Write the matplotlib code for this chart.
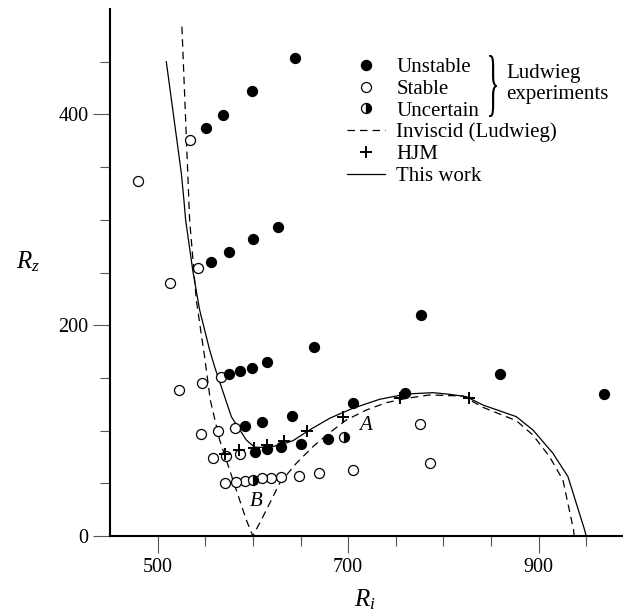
import matplotlib
matplotlib.use("Agg")
import matplotlib.pyplot as plt
from matplotlib.lines import Line2D
from matplotlib.textpath import TextPath
from matplotlib.patches import PathPatch
from matplotlib.font_manager import FontProperties
from matplotlib.transforms import Affine2D, IdentityTransform

plt.rcParams["font.family"] = "Liberation Serif"
plt.rcParams["mathtext.fontset"] = "custom"
plt.rcParams["mathtext.rm"] = "Liberation Serif"
plt.rcParams["mathtext.it"] = "Liberation Serif:italic"

# Ludwieg experiments
unstable_ri = [643.8, 599.4, 568.6, 551.1, 626.3, 600.1, 574.9, 555.6, 664.1, 614.8,
               599.4, 586.1, 574.9, 776.0, 859.1, 968.2, 759.3, 705.0, 641.0, 609.5,
               592.1, 678.8, 650.9, 629.9, 615.2, 601.8]
unstable_rz = [453.8, 421.9, 399.4, 387.1, 293.5, 281.5, 269.7, 260.2, 179.6, 164.8,
               159.7, 156.5, 153.4, 209.7, 153.7, 135.0, 135.4, 125.9, 114.1, 107.9,
               104.6, 91.7, 87.0, 84.2, 82.5, 79.4]

stable_ri = [534.3, 479.3, 542.3, 513.3, 566.1, 546.9, 522.0, 581.6, 563.3, 545.9,
             775.8, 586.1, 572.1, 558.1, 785.6, 705.0, 669.3, 648.0, 629.9, 619.4,
             609.5, 591.3, 581.9, 571.1]
stable_rz = [375.7, 336.5, 254.0, 240.3, 150.9, 145.4, 138.2, 102.2, 99.6, 96.5,
             106.3, 77.8, 75.9, 73.7, 69.5, 62.6, 59.5, 57.2, 56.3, 55.3,
             54.7, 52.5, 51.5, 50.6]

uncertain_ri = [695.6, 600.1]
uncertain_rz = [93.6, 53.1]

# HJM
hjm_ri = [571.1, 585.4, 600.8, 614.8, 632.6, 657.2, 694.5, 754.1, 826.8]
hjm_rz = [77.8, 81.6, 83.8, 86.3, 90.6, 99.9, 113.2, 130.6, 131.2]

# inviscid boundary (Ludwieg)
inviscid_ri = [525.5, 533.6, 540.6, 549.3, 555.3, 565.1, 579.1, 593.1, 600.0,
               610.6, 628.1, 645.6, 663.0, 680.6, 698.1, 719.1, 740.1, 761.1,
               785.6, 820.5, 841.5, 876.6, 894.0, 911.5, 925.5, 936.7, 937.3]
inviscid_rz = [483.2, 299.8, 223.9, 170.1, 129.0, 91.1, 53.1, 15.2, 0.0,
               18.3, 50.0, 69.0, 84.7, 98.0, 110.1, 119.5, 126.5, 130.6,
               133.8, 132.8, 122.1, 109.4, 95.8, 75.2, 53.1, 5.7, 0.0]

# present neutral curve
work_ri = [509.1, 524.9, 527.6, 529.4, 537.1, 544.1, 554.6, 559.8, 577.4, 593.1,
           601.8, 615.0, 628.1, 642.0, 659.6, 680.6, 705.0, 733.1, 761.1, 789.0,
           806.6, 824.1, 841.5, 876.6, 894.0, 915.0, 930.8, 948.3, 949.9]
work_rz = [450.0, 344.1, 318.8, 299.8, 250.8, 214.4, 176.5, 160.6, 113.2, 91.1,
           84.2, 84.0, 86.3, 90.4, 100.6, 111.7, 121.2, 129.7, 134.7, 136.0,
           134.4, 132.2, 124.3, 113.2, 100.6, 78.5, 56.3, 5.7, 0.0]

fig = plt.figure(figsize=(6.23, 6.16), dpi=100)
ax = fig.add_axes([110 / 623, 80 / 616, 514.35 / 623, 527 / 616])

ms = 7.2
ax.plot(inviscid_ri, inviscid_rz, color="black", lw=0.9, dashes=(6, 4), zorder=2)
ax.plot(work_ri, work_rz, color="black", lw=0.9, zorder=2)
ax.plot(stable_ri, stable_rz, "o", ms=ms, mfc="white", mec="black", mew=0.9, zorder=3)
ax.plot(unstable_ri, unstable_rz, "o", ms=ms, mfc="black", mec="black", mew=0.9, zorder=3)
ax.plot(uncertain_ri, uncertain_rz, "o", ms=ms, fillstyle="right", mfc="black",
        mfcalt="white", mec="black", mew=0.9, zorder=3)
ax.plot(hjm_ri, hjm_rz, "+", ms=9, color="black", mew=1.4, zorder=4)

ax.text(719, 104.4, "$A$", fontsize=15, ha="center", va="center")
ax.text(603, 32.5, "$B$", fontsize=15, ha="center", va="center")

ax.set_xlim(450, 990)
ax.set_ylim(0, 500)
ax.set_xticks([500, 700, 900])
ax.set_xticks([550, 600, 650, 750, 800, 850, 950], minor=True)
ax.set_yticks([0, 200, 400])
ax.set_yticks([50, 100, 150, 250, 300, 350, 450], minor=True)
ax.tick_params(which="major", length=12.5, width=0.8, color="#555555",
               labelsize=14.5, pad=3)
ax.tick_params(which="minor", length=7, width=0.8, color="#555555")
for side in ("top", "right"):
    ax.spines[side].set_visible(False)
for side in ("left", "bottom"):
    ax.spines[side].set_linewidth(1.5)

ax.text(-0.16, 0.52, "$R_z$", transform=ax.transAxes, fontsize=18,
        ha="center", va="center")
ax.text(0.496, -0.121, "$R_i$", transform=ax.transAxes, fontsize=18,
        ha="center", va="center")

handles = [
    Line2D([], [], ls="none", marker="o", ms=ms, mfc="black", mec="black"),
    Line2D([], [], ls="none", marker="o", ms=ms, mfc="white", mec="black", mew=0.9),
    Line2D([], [], ls="none", marker="o", ms=ms, fillstyle="right", mfc="black",
           mfcalt="white", mec="black", mew=0.9),
    Line2D([], [], color="black", lw=0.9, dashes=(6, 4)),
    Line2D([], [], ls="none", marker="+", ms=9, color="black", mew=1.4),
    Line2D([], [], color="black", lw=0.9),
]
labels = ["Unstable", "Stable", "Uncertain", "Inviscid (Ludwieg)", "HJM", "This work"]
ax.legend(handles, labels, loc="upper left", bbox_to_anchor=(0.4602, 0.9075),
          frameon=False, borderpad=0, borderaxespad=0, handlelength=1.84,
          handletextpad=0.55, labelspacing=0.1, fontsize=15)

# brace grouping the three experiment entries
tp = TextPath((0, 0), "}", size=1, prop=FontProperties(family="Liberation Serif"))
ext = tp.get_extents()
sx = 8 / ext.width
sy = 62 / ext.height
tr = Affine2D().translate(-ext.x0, -ext.y0).scale(sx, sy).translate(489, 616 - 117)
fig.patches.append(PathPatch(tp, transform=tr + IdentityTransform(), color="black", lw=0))

fig.text(506 / 623, 1 - 73.3 / 616, "Ludwieg", fontsize=15, ha="left", va="center")
fig.text(506 / 623, 1 - 95 / 616, "experiments", fontsize=15, ha="left", va="center")

fig.savefig("out.png", dpi=100)
